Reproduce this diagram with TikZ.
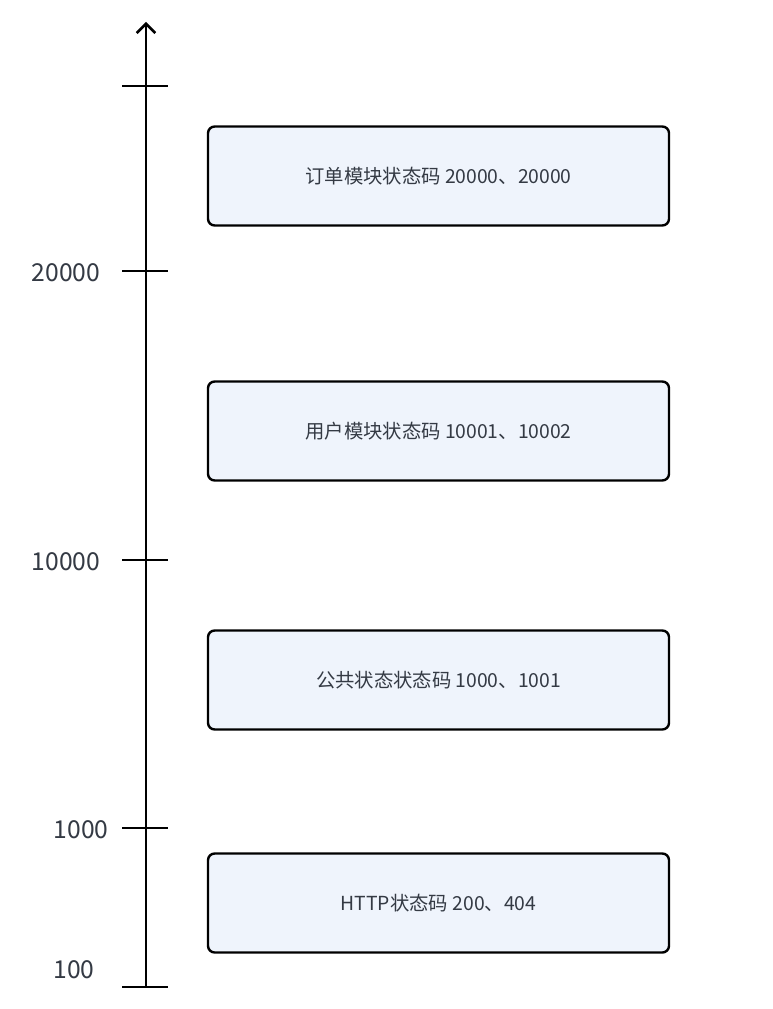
\documentclass[tikz,border=0pt]{standalone}
\usepackage{fontspec}
\setmainfont{Noto Sans CJK SC}
\usetikzlibrary{arrows.meta,positioning}
\definecolor{boxfill}{HTML}{EFF4FC}
\definecolor{labelgray}{HTML}{343A44}

\begin{document}
\begin{tikzpicture}[x=0.75pt, y=-0.75pt,
  every node/.style={font=\fontsize{14.5}{17}\selectfont},
  codebox/.style={draw, line width=1.8pt, fill=boxfill, rounded corners=5pt,
    minimum width=345.75pt, minimum height=74.25pt, text=labelgray},
  axislabel/.style={text=labelgray, font=\fontsize{18.5}{22}\selectfont},
  axisline/.style={line width=1.9pt}]
	\useasboundingbox (0,0) rectangle (772,1009);
	
	% axis
	\coordinate (base) at (146,987);
	\coordinate (tip) at (146,22);
	\draw[axisline, -{Straight Barb[length=7pt, width=14pt, line width=1.9pt]}] (base) -- (tip);
	\foreach \y in {86, 271, 560, 828, 987}
		\draw[axisline] (122,\y) -- (168,\y);
	
	\node[axislabel] (l20000) at (66,273) {20000};
	\node[axislabel] (l10000) at (66,562) {10000};
	\node[axislabel] (l1000) at (81,830) {1000};
	\node[axislabel] (l100) at (74,970) {100};
	
	% code ranges
	\node[codebox] (order) at (438.5,176) {订单模块状态码 20000、20000};
	\node[codebox] (user) at (438.5,431) {用户模块状态码 10001、10002};
	\node[codebox] (common) at (438.5,680) {公共状态状态码 1000、1001};
	\node[codebox] (http) at (438.5,903) {HTTP状态码 200、404};
\end{tikzpicture}
\end{document}
